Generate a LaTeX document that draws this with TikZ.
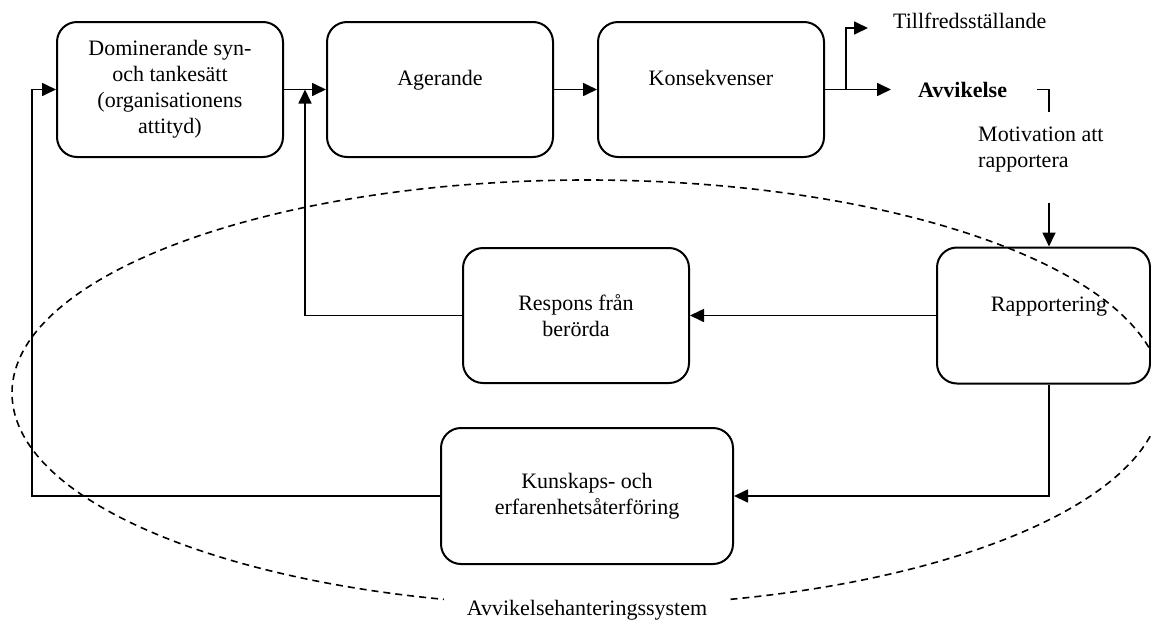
\documentclass[tikz,border=0pt]{standalone}
\usepackage{fontspec}
\setmainfont{Liberation Serif}
\usetikzlibrary{arrows.meta}
\begin{document}
\begin{tikzpicture}[x=1pt,y=-1pt,
  every node/.append style={font=\fontsize{22}{26}\selectfont},
  box/.style={draw, line width=2pt, rounded corners=20pt,
    minimum width=226pt, minimum height=135pt, inner sep=0pt, align=center},
  toptext/.style={text height=15pt, text depth=23pt},
  flow/.style={line width=1.7pt, -{Triangle[length=14pt,width=13pt]}},
  link/.style={line width=1.7pt},
  boundary/.style={line width=1.6pt, dash pattern=on 7pt off 5pt}]
\useasboundingbox (0,0) rectangle (1151,619);

% system boundary
\draw[boundary] (587,393) ellipse [x radius=575pt, y radius=213pt];
\node[anchor=base, fill=white, inner xsep=23pt, inner ysep=5pt] (sys) at (587,615)
  {Avvikelsehanteringssystem};

% boxes
\node[box] (dom) at (170,89.5)
  {Dominerande syn-\\och tankesätt\\(organisationens\\attityd)};
\node[box,toptext] (ager) at (440,89.5) {Agerande};
\node[box,toptext] (kons) at (711,89.5) {Konsekvenser};
\node[box,toptext,minimum width=213pt,minimum height=136pt] (rapp) at (1043.5,315.5)
  {\hspace*{11pt}Rapportering};
\node[box] (resp) at (576,315.5) {Respons från\\berörda};
\node[box,minimum width=292pt,minimum height=136pt] (kunsk) at (587,496)
  {Kunskaps- och\\erfarenhetsåterföring};

% outcome labels
\node[anchor=base west, inner sep=0pt] (tf) at (893,28) {Tillfredsställande};
\node[anchor=base west, inner sep=0pt, font=\fontsize{22}{26}\selectfont\bfseries] (avv)
  at (918,97) {Avvikelse};
\node[anchor=north west, align=left, inner sep=0pt] (mot) at (978,127)
  {Motivation att\\rapportera};

% helper points
\coordinate (fbL) at (32,0);
\coordinate (fbM) at (305,0);
\coordinate (split) at (846,89.5);
\coordinate (tftip) at (868,28);
\coordinate (avvtip) at (891,89.5);
\coordinate (brk) at (1037,89.5);
\coordinate (motTop) at (1049,112);
\coordinate (motBot) at (1049,203);

% main flow
\draw[flow] (dom.east) -- (ager.west);
\draw[flow] (ager.east) -- (kons.west);
\draw[flow] (kons.east) -- (avvtip);
\draw[flow] (split) |- (tftip);
\draw[link] (brk) -| (motTop);
\draw[flow] (motBot) -- (motBot |- rapp.north);

% feedback loops
\draw[flow] (rapp.west) -- (resp.east);
\draw[flow] (rapp.south -| motBot) |- (kunsk.east);
\draw[flow] (resp.west) -- (resp.west -| fbM) -- (fbM |- dom.east);
\draw[flow] (kunsk.west) -- (kunsk.west -| fbL) |- (dom.west);
\end{tikzpicture}
\end{document}
